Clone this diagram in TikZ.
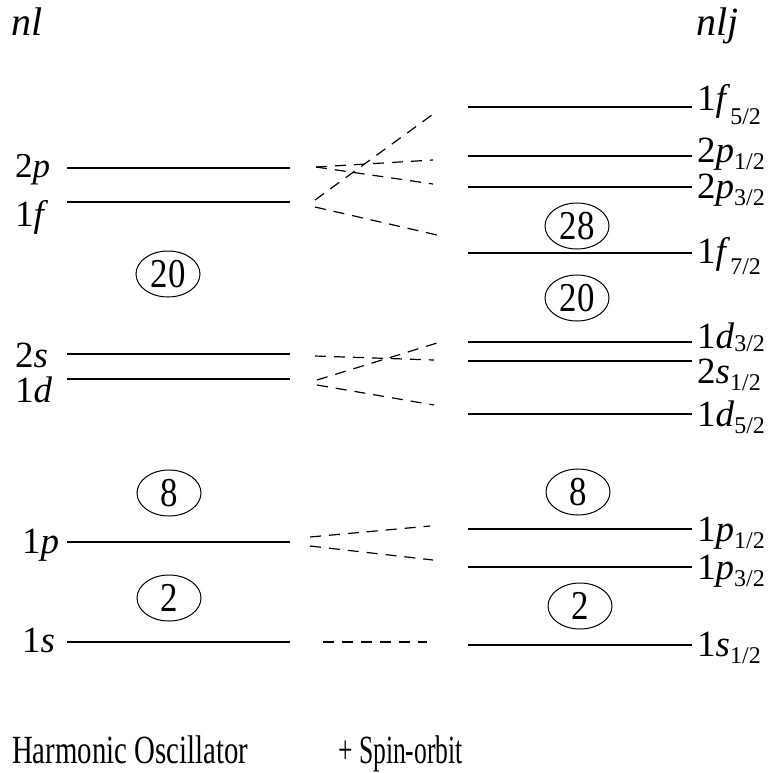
\documentclass[tikz,border=0pt]{standalone}
\usepackage{fontspec}
\setmainfont{Liberation Serif}
\newfontfamily\condfnt[FakeStretch=0.72]{Liberation Serif}
\newfontfamily\narrowfnt[FakeStretch=0.64]{Liberation Serif}
\newfontfamily\numfnt[FakeStretch=0.85]{Liberation Serif}
\usetikzlibrary{shapes.geometric}
\newcommand\sbs[2][7]{\raisebox{-#1pt}{\fontsize{24}{24}\selectfont #2}}
\begin{document}
\begin{tikzpicture}[x=1pt,y=-1pt,
  lvl/.style={line width=1.2pt},
  splitline/.style={line width=1.2pt, dash pattern=on 11pt off 8pt},
  magic/.style={draw, ellipse, line width=1pt, minimum width=64pt, minimum height=46pt, inner sep=0pt, font=\numfnt\fontsize{41}{41}\selectfont},
  lab/.style={inner sep=0pt, font=\fontsize{37}{40}\selectfont},
  head/.style={inner sep=0pt, font=\itshape\fontsize{40}{42}\selectfont},
  foot/.style={inner sep=0pt, font=\condfnt\fontsize{40}{42}\selectfont}]
\useasboundingbox (0,0) rectangle (784,772);
% headings
\node[head, anchor=base west] (hnl) at (11,35) {nl};
\node[head, anchor=base west] (hnlj) at (696,35) {nlj};
% left levels
\foreach \n/\y in {2p/168, 1f/202, 2s/354, 1d/379, 1p/542, 1s/642}{
  \coordinate (La\n) at (67,\y);
  \coordinate (Lb\n) at (290,\y);
  \draw[lvl] (La\n) -- (Lb\n);
}
% right levels
\foreach \n/\y in {f52/107, p12/156, p32/187, f72/253, d32/342, s12/361, d52/414, pp12/529, pp32/567, ss12/645}{
  \coordinate (Ra\n) at (468,\y);
  \coordinate (Rb\n) at (692,\y);
  \draw[lvl] (Ra\n) -- (Rb\n);
}
% left labels
\node[lab, anchor=base west, font=\fontsize{35}{37}\selectfont] (t2p) at (15,177) {2\textit{p}};
\node[lab, anchor=base west] (t1f) at (15,226) {1\textit{f}};
\node[lab, anchor=base west] (t2s) at (15,367) {2\textit{s}};
\node[lab, anchor=base west] (t1d) at (15,402) {1\textit{d}};
\node[lab, anchor=base west] (t1p) at (22,553) {1\textit{p}};
\node[lab, anchor=base west] (t1s) at (22,652) {1\textit{s}};
% right labels
\node[lab, anchor=base west] (rf52) at (697,110) {1\textit{f}\sbs[14]{5/2}};
\node[lab, anchor=base west] (rp12) at (697,162) {2\textit{p}\sbs{1/2}};
\node[lab, anchor=base west] (rp32) at (697,198) {2\textit{p}\sbs{3/2}};
\node[lab, anchor=base west] (rf72) at (697,263) {1\textit{f}\sbs[11]{7/2}};
\node[lab, anchor=base west] (rd32) at (697,348) {1\textit{d}\sbs[3]{3/2}};
\node[lab, anchor=base west] (rs12) at (697,383) {2\textit{s}\sbs{1/2}};
\node[lab, anchor=base west] (rd52) at (697,426) {1\textit{d}\sbs{5/2}};
\node[lab, anchor=base west] (rpp12) at (697,541) {1\textit{p}\sbs{1/2}};
\node[lab, anchor=base west] (rpp32) at (697,579) {1\textit{p}\sbs{3/2}};
\node[lab, anchor=base west] (rss12) at (697,656) {1\textit{s}\sbs{1/2}};
% magic numbers
\node[magic] (m20l) at (168,274) {20};
\node[magic] (m8l) at (169,493) {8};
\node[magic] (m2l) at (169,598) {2};
\node[magic] (m28r) at (577,226) {28};
\node[magic] (m20r) at (577,298) {20};
\node[magic] (m8r) at (578,492) {8};
\node[magic] (m2r) at (580,606) {2};
% splitting connectors
\coordinate (s2p) at (316,167);
\coordinate (e2p1) at (433,160);
\coordinate (e2p3) at (433,184);
\coordinate (s1fa) at (315,200);
\coordinate (s1fb) at (315,207);
\coordinate (e1f5) at (436,112);
\coordinate (e1f7) at (437,235);
\coordinate (s2s) at (315,356);
\coordinate (e2s1) at (434,360);
\coordinate (s1da) at (317,380);
\coordinate (s1db) at (317,385);
\coordinate (e1d3) at (437,343);
\coordinate (e1d5) at (434,405);
\coordinate (s1pa) at (310,537);
\coordinate (s1pb) at (310,546);
\coordinate (e1p1) at (430,526);
\coordinate (e1p3) at (433,560);
\coordinate (s1s) at (323,642);
\coordinate (e1s1) at (427,642);
\draw[splitline] (s2p) -- (e2p1);
\draw[splitline] (s2p) -- (e2p3);
\draw[splitline] (s1fa) -- (e1f5);
\draw[splitline] (s1fb) -- (e1f7);
\draw[splitline] (s2s) -- (e2s1);
\draw[splitline] (s1da) -- (e1d3);
\draw[splitline] (s1db) -- (e1d5);
\draw[splitline] (s1pa) -- (e1p1);
\draw[splitline] (s1pb) -- (e1p3);
\draw[splitline] (s1s) -- (e1s1);
% footers
\node[foot, anchor=base west] (fho) at (12,763) {Harmonic Oscillator};
\node[foot, anchor=base west, font=\narrowfnt\fontsize{40}{42}\selectfont] (fso) at (338,763) {+ Spin-orbit};
\end{tikzpicture}
\end{document}
